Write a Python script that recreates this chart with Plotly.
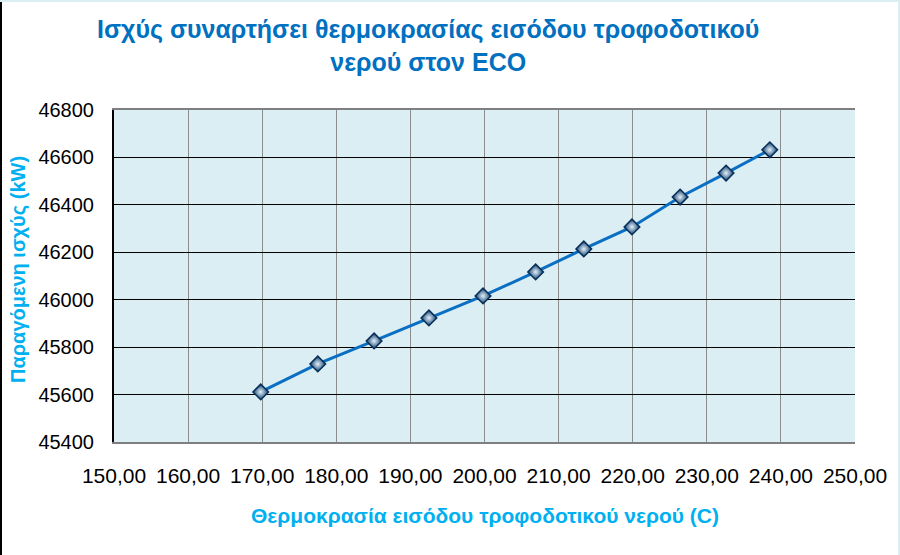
import plotly.graph_objects as go

temperature = [169.8, 177.5, 185.1, 192.5, 199.8, 206.9, 213.4, 219.9, 226.4, 232.6, 238.5]
power_kw = [45611, 45729, 45826, 45923, 46016, 46117, 46214, 46307, 46433, 46534, 46632]

x_ticks = [150, 160, 170, 180, 190, 200, 210, 220, 230, 240, 250]
x_ticktext = ["150,00", "160,00", "170,00", "180,00", "190,00", "200,00",
              "210,00", "220,00", "230,00", "240,00", "250,00"]
y_ticks = [45400, 45600, 45800, 46000, 46200, 46400, 46600, 46800]

title_text = "<b>Ισχύς συναρτήσει θερμοκρασίας εισόδου τροφοδοτικού<br>νερού στον ECO</b>"
x_title = "<b>Θερμοκρασία εισόδου τροφοδοτικού νερού (C)</b>"
y_title = "<b>Παραγόμενη ισχύς (kW)</b>"

W, H = 900, 555
L, R, T, B = 114, 45, 110, 113
pw = W - L - R
ph = H - T - B

def px_x(p):
    return (p - L) / pw

def px_y(p):
    return (T + ph - p) / ph

fig = go.Figure()
fig.add_trace(go.Scatter(
    x=temperature, y=power_kw, mode="lines+markers",
    line=dict(color="#0A6FC2", width=3),
    marker=dict(symbol="diamond", size=12, color="#0A3E72",
                gradient=dict(type="radial", color="#E6F0F8"),
                line=dict(color="#082E55", width=1.5)),
    showlegend=False,
))

fig.update_layout(
    width=W, height=H, autosize=False,
    margin=dict(l=L, r=R, t=T, b=B, autoexpand=False),
    paper_bgcolor="white",
    plot_bgcolor="#DBEEF4",
    font=dict(family="Liberation Sans, Arial, sans-serif", color="black"),
    xaxis=dict(range=[150, 250], tickvals=x_ticks, ticktext=x_ticktext,
               showgrid=True, gridcolor="#8C8C8C", gridwidth=1,
               showline=True, linecolor="#7F7F7F", linewidth=2, mirror=True,
               ticks="", tickfont=dict(size=21), ticklabelstandoff=14,
               zeroline=False, fixedrange=True, automargin=False),
    yaxis=dict(range=[45400, 46800], tickvals=y_ticks, tickformat="d",
               showgrid=True, gridcolor="black", gridwidth=1.3,
               showline=True, linecolor="black", linewidth=2,
               ticks="", tickfont=dict(size=20), ticklabelstandoff=14,
               zeroline=False, fixedrange=True, automargin=False),
    annotations=[
        dict(text=title_text, xref="paper", yref="paper",
             x=px_x(428), y=px_y(45), showarrow=False,
             xanchor="center", yanchor="middle", align="center",
             font=dict(size=25, color="#0070C0")),
        dict(text=y_title, xref="paper", yref="paper",
             x=px_x(18), y=px_y(270), textangle=-90,
             showarrow=False, xanchor="center", yanchor="middle",
             font=dict(size=20, color="#00B0F0")),
        dict(text=x_title, xref="paper", yref="paper",
             x=px_x(485), y=px_y(515),
             showarrow=False, xanchor="center", yanchor="middle",
             font=dict(size=21, color="#00B0F0")),
    ],
    shapes=[
        dict(type="line", xref="paper", yref="paper",
             x0=px_x(1), x1=px_x(1), y0=px_y(H), y1=px_y(0),
             line=dict(color="black", width=2)),
        dict(type="line", xref="paper", yref="paper",
             x0=px_x(0), x1=px_x(W), y0=px_y(1), y1=px_y(1),
             line=dict(color="#DBEEF4", width=2)),
        dict(type="line", xref="paper", yref="paper",
             x0=px_x(W - 1), x1=px_x(W - 1), y0=px_y(H), y1=px_y(0),
             line=dict(color="#DBEEF4", width=2)),
    ],
)

fig.write_html("out.html", config={"displayModeBar": False},
               post_script="document.body.style.margin='0';document.body.style.overflow='hidden';")
